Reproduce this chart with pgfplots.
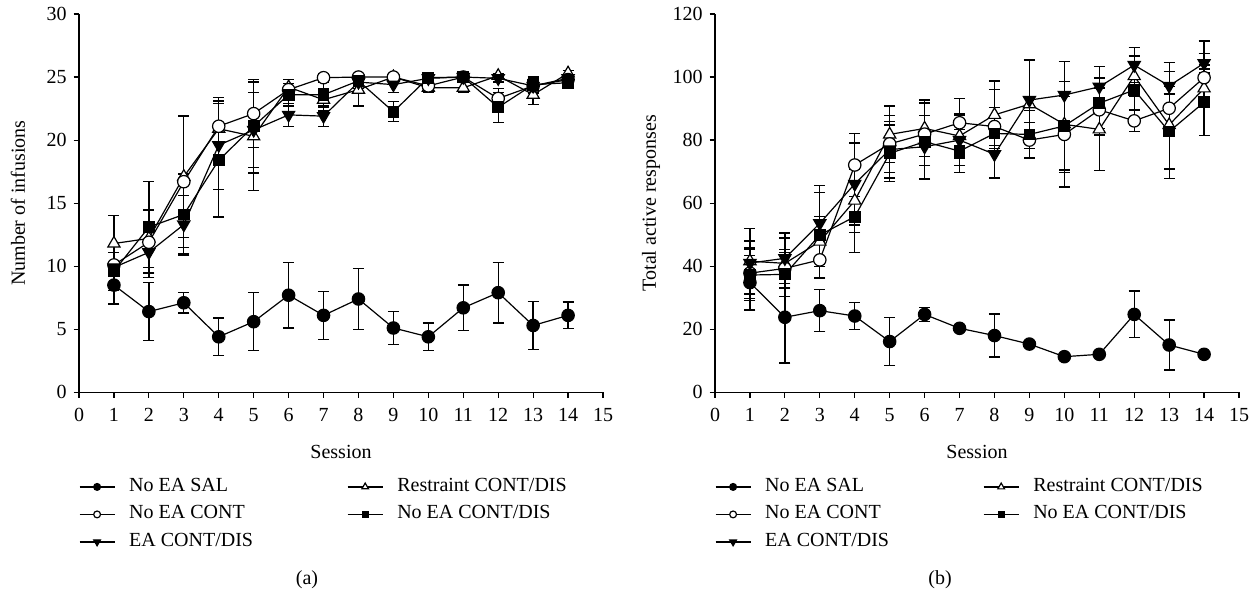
\documentclass[border=0pt]{standalone}
\usepackage{fontspec}
\setmainfont{Liberation Serif}
\usepackage{pgfplots}
\pgfplotsset{compat=1.18}
\begin{document}
\fontsize{20}{24}\selectfont
\begin{tikzpicture}
\path[use as bounding box] (0,0) rectangle (1257pt,592pt);
\pgfplotsset{
  myaxis/.style={
    scale only axis, width=524pt, height=378.3pt,
    axis lines=left, axis line style={-, line width=1.2pt},
    xmin=0, xmax=15, ymin=0,
    xtick={0,...,15},
    tick align=outside, major tick length=5.5pt, tick style={line width=1.2pt, black},
    /pgf/number format/assume math mode=true,
    ticklabel style={font=\fontsize{20}{24}\selectfont},
    xticklabel style={yshift=-4pt},
    label style={font=\fontsize{20}{24}\selectfont},
    xlabel={Session},
    xlabel style={at={(axis description cs:0.5,-0.157)}, anchor=center},
    legend columns=2,
    legend cell align=left,
    legend style={at={(axis description cs:0,-0.225)}, anchor=north west, draw=none, fill=none,
      inner sep=0pt, outer sep=0pt, font=\fontsize{20}{24}\selectfont,
      nodes={inner sep=0pt, text height=14pt, text depth=5pt}, row sep=8.5pt,
      /tikz/every odd column/.append style={column sep=14pt},
      /tikz/every even column/.append style={column sep=94pt}},
    legend image code/.code={
      \draw[##1, every mark/.append style={scale=0.55}] (0pt,0pt) -- (35pt,0pt);
      \draw[##1, every mark/.append style={scale=0.55}] plot coordinates {(17.5pt,0pt)};},
    error bars/y dir=both, error bars/y explicit,
    error bars/error bar style={line width=1.3pt, black},
    error bars/error mark options={rotate=90, mark size=5.5pt, line width=1.3pt, black},
  },
  sal/.style={black, line width=1.2pt, mark=*, mark size=6.2pt, mark options={fill=black, draw=black, line width=1.2pt}},
  cont/.style={black, line width=1.2pt, mark=*, mark size=6.2pt, mark options={fill=white, draw=black, line width=1.2pt}},
  ead/.style={black, line width=1.2pt, mark=triangle*, mark size=7pt, mark options={rotate=180, fill=black, draw=black, line width=1.2pt}},
  restr/.style={black, line width=1.2pt, mark=triangle*, mark size=7pt, mark options={fill=white, draw=black, line width=1.2pt}},
  sq/.style={black, line width=1.2pt, mark=square*, mark size=5.3pt, mark options={fill=black, draw=black, line width=1.2pt}},
}
% ---------------- (a) ----------------
\begin{axis}[myaxis, at={(79pt,199.7pt)}, anchor=south west,
  ymax=30, ytick={0,5,...,30},
  ylabel={Number of infusions},
  ylabel style={at={(axis description cs:-0.1164,0.5)}, anchor=center}]
\addplot[sal] table[x=x, y=y, y error=e] {
x y e
1 8.5 1.5
2 6.4 2.3
3 7.1 0.8
4 4.4 1.5
5 5.6 2.3
6 7.7 2.6
7 6.1 1.9
8 7.4 2.4
9 5.1 1.3
10 4.4 1.1
11 6.7 1.8
12 7.9 2.4
13 5.3 1.9
14 6.1 1.05
};
\addlegendentry{No EA SAL}
\addplot[restr] table[x=x, y=y, y error=e] {
x y e
1 11.8 2.2
2 12.2 2.3
3 17.1 4.8
4 20.9 2.5
5 20.3 4.3
6 24.2 0.6
7 23.2 0.9
8 24.0 1.3
9 25.0 0.3
10 24.15 0.4
11 24.15 0.4
12 25.1 0.2
13 23.6 0.8
14 25.3 0.2
};
\addlegendentry{Restraint CONT/DIS}
\addplot[cont] table[x=x, y=y, y error=e] {
x y e
1 10.1 1.5
2 11.9 2.5
3 16.7 5.2
4 21.1 2.3
5 22.1 2.7
6 24.0 0.8
7 24.95 0.3
8 25.0 0.2
9 25.0 0.3
10 24.3 0.5
11 25.0 0.3
12 23.3 0.8
13 24.3 0.6
14 24.8 0.4
};
\addlegendentry{No EA CONT}
\addplot[sq] table[x=x, y=y, y error=e] {
x y e
1 9.6 1.5
2 13.1 3.6
3 14.1 3.2
4 18.4 4.5
5 21.1 3.7
6 23.6 0.9
7 23.6 1.0
8 24.7 0.4
9 22.25 0.8
10 24.95 0.3
11 25.0 0.3
12 22.6 1.2
13 24.4 0.6
14 24.55 0.4
};
\addlegendentry{No EA CONT/DIS}
\addplot[ead] table[x=x, y=y, y error=e] {
x y e
1 9.9 1.2
2 11.1 2.0
3 13.3 2.3
4 19.6 3.5
5 20.8 3.0
6 22.0 0.9
7 21.9 0.8
8 24.6 0.5
9 24.4 0.6
10 24.9 0.3
11 25.0 0.2
12 24.9 0.3
13 24.3 0.6
14 24.9 0.3
};
\addlegendentry{EA CONT/DIS}
\end{axis}
% ---------------- (b) ----------------
\begin{axis}[myaxis, at={(715pt,199.7pt)}, anchor=south west,
  ymax=120, ytick={0,20,...,120},
  ylabel={Total active responses},
  ylabel style={at={(axis description cs:-0.122,0.5)}, anchor=center}]
\addplot[sal] table[x=x, y=y, y error=e] {
x y e
1 34.8 8.7
2 23.8 14.5
3 25.9 6.7
4 24.2 4.2
5 16.1 7.6
6 24.7 2.3
7 20.3 0.8
8 18.0 6.8
9 15.3 0.8
10 11.3 0.8
11 12.05 0.8
12 24.7 7.4
13 15.0 7.9
14 12.05 0.8
};
\addlegendentry{No EA SAL}
\addplot[restr] table[x=x, y=y, y error=e] {
x y e
1 41.6 10.4
2 40.9 8
3 47.8 8
4 60.8 10
5 81.8 9
6 83.7 9
7 81.3 7
8 88.0 10.7
9 91.4 14
10 85.0 19.9
11 83.4 13.1
12 100.3 6.4
13 84.8 17
14 96.4 15
};
\addlegendentry{Restraint CONT/DIS}
\addplot[cont] table[x=x, y=y, y error=e] {
x y e
1 37.8 8
2 39.3 6
3 42.0 6
4 72.1 10
5 78.8 9
6 81.9 10
7 85.5 7.6
8 84.3 6
9 80.0 5.6
10 81.8 12
11 89.6 8
12 86.1 3.4
13 90.1 7
14 99.8 4
};
\addlegendentry{No EA CONT}
\addplot[sq] table[x=x, y=y, y error=e] {
x y e
1 37.2 8
2 37.4 7
3 49.9 13.5
4 55.7 11.4
5 75.8 9
6 79.5 12
7 76.5 6.8
8 82.1 14
9 81.8 7.5
10 84.5 14
11 91.7 8
12 95.9 9
13 82.7 11.9
14 92.0 10.6
};
\addlegendentry{No EA CONT/DIS}
\addplot[ead] table[x=x, y=y, y error=e] {
x y e
1 41.0 7
2 42.5 8
3 53.6 12
4 66.1 13
5 77.0 9
6 77.9 10
7 80.0 8
8 75.5 7.6
9 92.7 12.7
10 94.3 10.6
11 96.9 6.5
12 103.8 5.5
13 97.2 7.4
14 104.4 3.1
};
\addlegendentry{EA CONT/DIS}
\end{axis}
\node at (307pt,12pt) {(a)};
\node at (940pt,12pt) {(b)};
\end{tikzpicture}
\end{document}
